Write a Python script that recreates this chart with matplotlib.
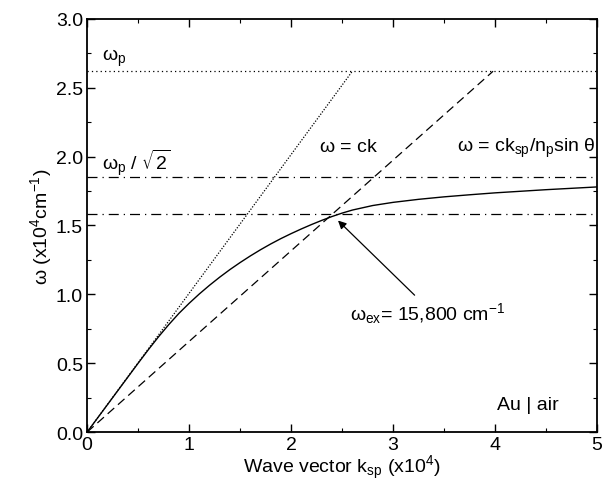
import matplotlib
matplotlib.use('Agg')
import matplotlib.pyplot as plt
from matplotlib.ticker import MultipleLocator

plt.rcParams['font.family'] = ['Liberation Sans', 'DejaVu Sans']
plt.rcParams['mathtext.default'] = 'regular'
plt.rcParams['font.size'] = 14

# surface plasmon dispersion (k in 1e4 cm^-1, w in 1e4 cm^-1)
k_sp = [0, 0.25, 0.5, 0.6, 0.7, 0.8, 0.9, 1.0, 1.1, 1.2, 1.3, 1.4, 1.5,
        1.6, 1.7, 1.8, 1.9, 2.0, 2.1, 2.2, 2.3, 2.4, 2.5, 2.6, 2.8,
        3.0, 3.25, 3.5, 3.75, 4.0, 4.5, 5.0]
w_sp = [0, 0.25, 0.5, 0.598, 0.692, 0.78, 0.862, 0.935, 1.003, 1.066, 1.125,
        1.18, 1.231, 1.279, 1.324, 1.366, 1.405, 1.441, 1.475, 1.507, 1.537,
        1.565, 1.59, 1.612, 1.645, 1.668, 1.69, 1.708, 1.723, 1.737, 1.76, 1.78]

# light lines
k_light = [0, 2.6]
w_light = [0, 2.62]
k_prism = [0, 3.98]
w_prism = [0, 2.62]

w_p = 2.62
w_p_sqrt2 = 1.85
w_ex = 1.58
k_ex = 2.4

fig = plt.figure(figsize=(6.05, 4.85), dpi=100)
ax = fig.add_axes([0.144, 0.107, 0.843, 0.852])

ax.plot(k_sp, w_sp, color='black', lw=1.0)
ax.plot(k_light, w_light, color='black', lw=0.9, ls=(0, (1, 1.3)))
ax.plot(k_prism, w_prism, color='black', lw=0.9, ls=(0, (7, 4)))
ax.axhline(w_p, color='black', lw=0.9, ls=(0, (1, 2.5)))
ax.axhline(w_p_sqrt2, color='black', lw=0.9, ls=(0, (8, 4, 1, 4)))
ax.axhline(w_ex, color='black', lw=0.9, ls=(0, (8, 4, 1, 4)))

ax.text(0.15, 2.72, r'$\omega_p$', va='center')
ax.text(0.15, 1.96, r'$\omega_p$ / $\sqrt{2}$', va='center')
ax.text(2.27, 2.07, r'$\omega$ = ck', va='center')
ax.text(3.63, 2.07, r'$\omega$ = ck$_{sp}$/n$_p$sin $\theta$', va='center')
ax.text(2.58, 0.87, r'$\omega_{ex}$= 15,800 cm$^{-1}$', va='center')
ax.text(4.02, 0.2, 'Au | air', va='center')
ax.annotate('', xy=(k_ex + 0.04, w_ex - 0.03), xytext=(3.23, 0.98),
            arrowprops=dict(arrowstyle='-|>', color='black', lw=0.9,
                            mutation_scale=12))

ax.set_xlim(0, 5)
ax.set_ylim(0, 3.0)
ax.xaxis.set_major_locator(MultipleLocator(1))
ax.xaxis.set_minor_locator(MultipleLocator(0.5))
ax.yaxis.set_major_locator(MultipleLocator(0.5))
ax.yaxis.set_minor_locator(MultipleLocator(0.25))
ax.yaxis.set_major_formatter(matplotlib.ticker.FormatStrFormatter('%.1f'))
ax.tick_params(which='both', direction='in', top=True, right=True, pad=3)
ax.tick_params(which='major', length=6, width=1)
ax.tick_params(which='minor', length=3, width=0.8)
for s in ax.spines.values():
    s.set_linewidth(1.3)

ax.set_xlabel(r'Wave vector k$_{sp}$ (x10$^4$)', labelpad=0)
ax.set_ylabel(r'$\omega$ (x10$^4$cm$^{-1}$)', labelpad=1)

fig.savefig('out.png', dpi=100)
